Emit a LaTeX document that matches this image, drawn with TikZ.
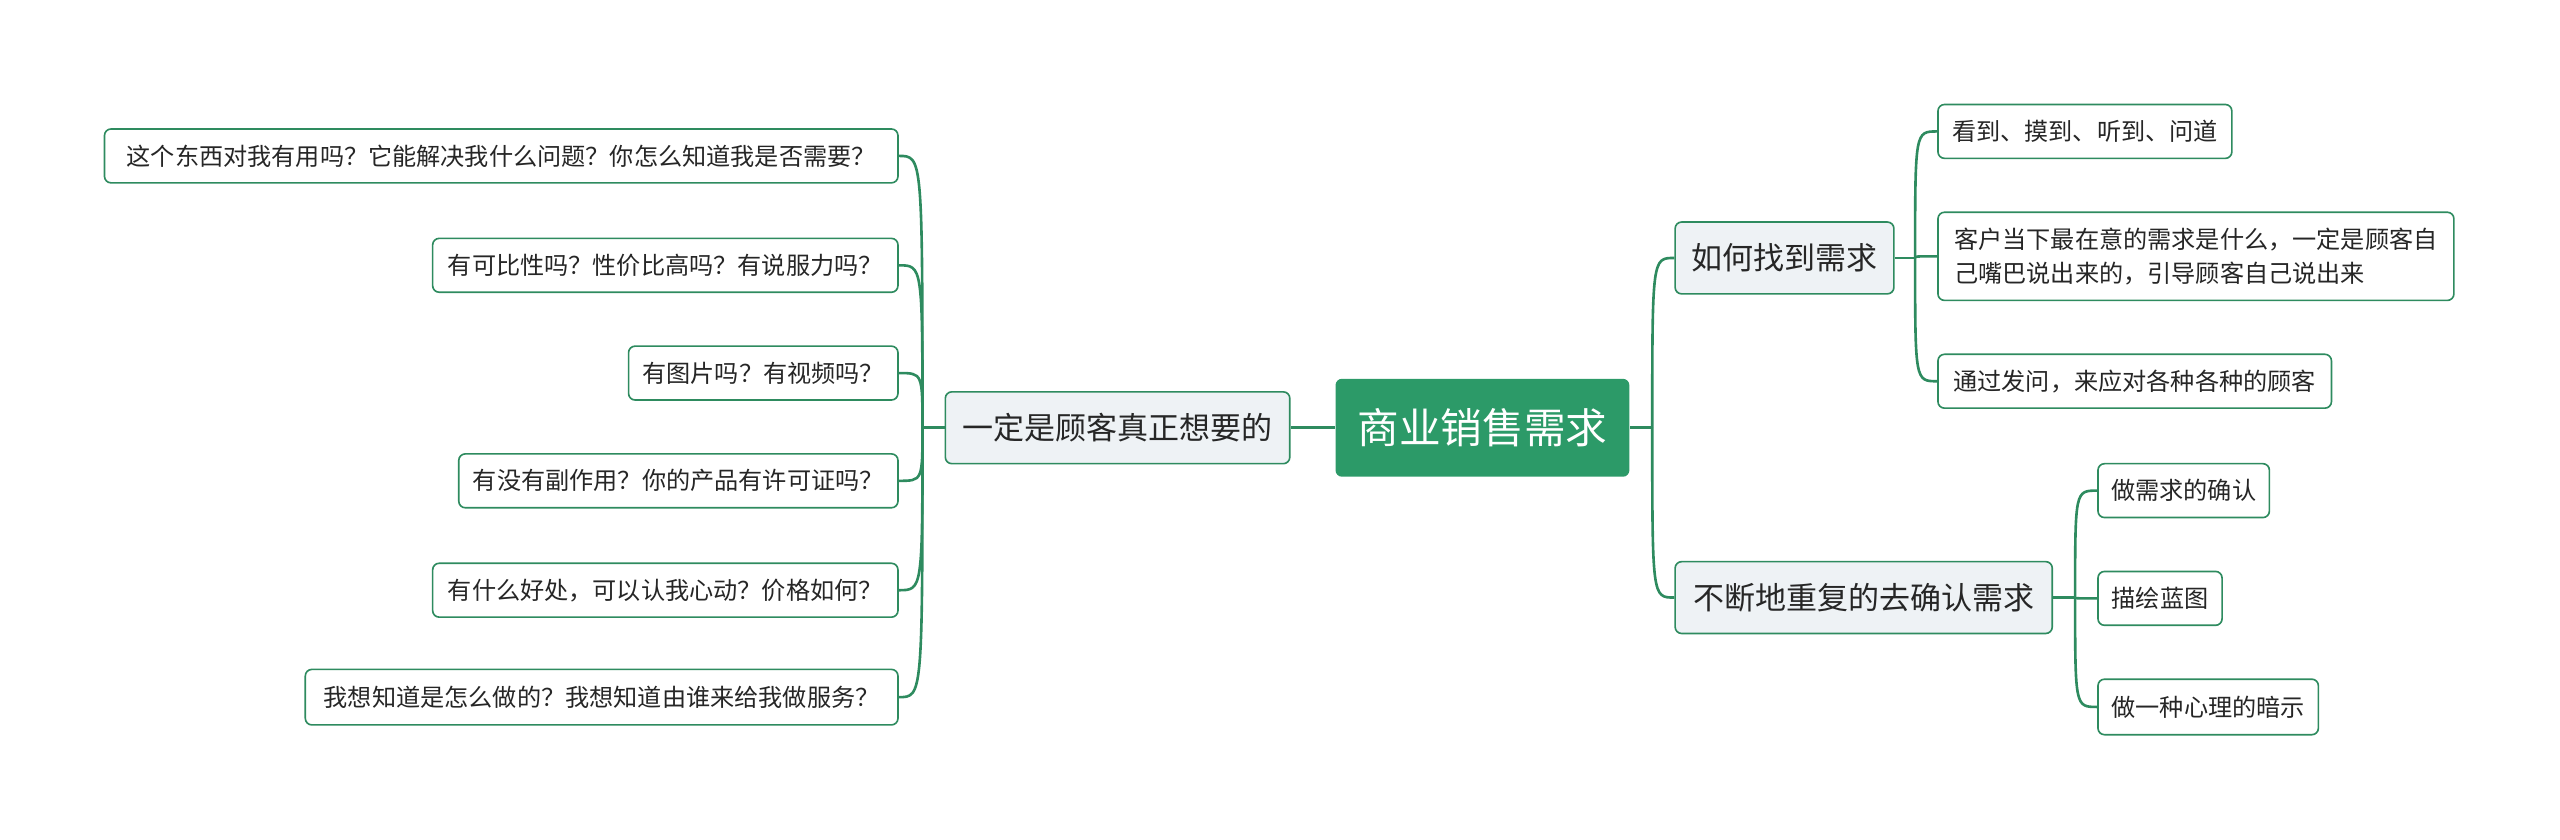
\documentclass[tikz,border=0pt]{standalone}
\usepackage{fontspec}
\setmainfont{Noto Sans CJK SC}
\definecolor{g}{HTML}{2C9A68}
\definecolor{ln}{HTML}{2E8B5F}
\definecolor{bf}{HTML}{EEF2F5}
\begin{document}
\begin{tikzpicture}[x=1pt,y=-1pt,
 box/.style={draw=ln,line width=1pt,rounded corners=4pt,inner sep=0pt,align=left,text=black!85},
 leaf/.style={box,fill=white,font=\fontsize{14.8}{21}\selectfont},
 br/.style={box,fill=bf,font=\fontsize{19}{22}\selectfont},
 conn/.style={draw=ln,line width=1.6pt}]
\useasboundingbox (0,0) rectangle (1568,514);
\node[box,fill=g,draw=none,text=white,font=\fontsize{25.5}{30}\selectfont,minimum width=180,minimum height=60] (c) at (908,262) {商业销售需求};
\node[br,minimum width=211,minimum height=44] (L) at (684.5,262) {一定是顾客真正想要的};
\node[br,minimum width=134,minimum height=44] (R1) at (1093,158) {如何找到需求};
\node[br,minimum width=231,minimum height=44] (R2) at (1141.5,366) {不断地重复的去确认需求};
% left leaves
\node[leaf,minimum width=486,minimum height=33] (l1) at (307,95.5) {这个东西对我有用吗？它能解决我什么问题？你怎么知道我是否需要？};
\node[leaf,minimum width=285,minimum height=33] (l2) at (407.5,162.5) {有可比性吗？性价比高吗？有说服力吗？};
\node[leaf,minimum width=165,minimum height=33] (l3) at (467.5,228.5) {有图片吗？有视频吗？};
\node[leaf,minimum width=269,minimum height=33] (l4) at (415.5,294.5) {有没有副作用？你的产品有许可证吗？};
\node[leaf,minimum width=285,minimum height=33] (l5) at (407.5,361.5) {有什么好处，可以认我心动？价格如何？};
\node[leaf,minimum width=363,minimum height=34] (l6) at (368.5,427) {我想知道是怎么做的？我想知道由谁来给我做服务？};
% right leaves
\node[leaf,minimum width=180,minimum height=33] (a) at (1277,80.5) {看到、摸到、听到、问道};
\node[leaf,minimum width=316,minimum height=54] (b) at (1345,157) {客户当下最在意的需求是什么，一定是顾客自\\己嘴巴说出来的，引导顾客自己说出来};
\node[leaf,minimum width=241,minimum height=33] (cc) at (1307.5,233.5) {通过发问，来应对各种各种的顾客};
\node[leaf,minimum width=105,minimum height=33] (d) at (1337.5,300.5) {做需求的确认};
\node[leaf,minimum width=76,minimum height=33] (e) at (1323,366.5) {描绘蓝图};
\node[leaf,minimum width=135,minimum height=34] (f) at (1352.5,433) {做一种心理的暗示};
% connectors
\coordinate (cj) at (1012,262);
\draw[conn] (c.east) -- (cj);
\draw[conn] (c.west) -- (L.east);
\foreach \n in {R1,R2} \draw[conn] (cj) .. controls (cj|-\n.west) .. (\n.west);
\coordinate (lj) at (565,262);
\draw[conn] (L.west) -- (lj);
\foreach \n in {l1,l2,l3,l4,l5,l6} \draw[conn] (lj) .. controls (lj|-\n.east) .. (\n.east);
\coordinate (r1j) at (1173,158);
\draw[conn] (R1.east) -- (r1j);
\foreach \n in {a,b,cc} \draw[conn] (r1j) .. controls (r1j|-\n.west) .. (\n.west);
\coordinate (r2j) at (1271,366);
\draw[conn] (R2.east) -- (r2j);
\foreach \n in {d,e,f} \draw[conn] (r2j) .. controls (r2j|-\n.west) .. (\n.west);
\end{tikzpicture}
\end{document}
